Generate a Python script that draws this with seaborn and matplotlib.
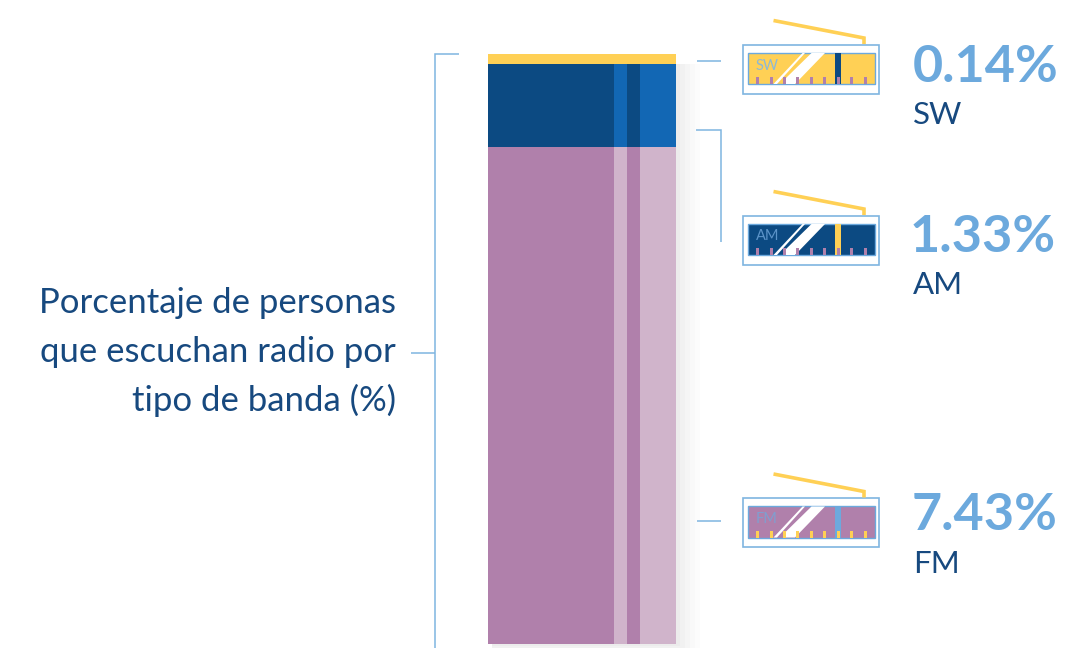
import pandas as pd
import seaborn as sns
import matplotlib.pyplot as plt
from matplotlib.patches import Rectangle, Polygon

# values printed next to the icons
bands = ['SW', 'AM', 'FM']
percent_labels = ['0.14%', '1.33%', '7.43%']
# share of the bar each band takes in the drawing
bar_share = [1.7, 14.1, 84.2]

title_lines = ['Porcentaje de personas', 'que escuchan radio por', 'tipo de banda (%)']

YELLOW = '#FFD055'
NAVY = '#0C4A82'
ROYAL = '#1267B4'
MAUVE = '#B080AB'
PALE_MAUVE = '#D0B4CB'
SKY = '#6CA9DD'
LINE = '#7FB5E0'
TEXT_BLUE = '#17497F'

sns.set_theme(style='white')
plt.rcParams['font.family'] = ['Lato', 'DejaVu Sans']

W, H = 1086, 648
fig = plt.figure(figsize=(W / 100, H / 100), dpi=100, facecolor='white')

# page layer in pixel coordinates, for brackets, icons and text
page = fig.add_axes([0, 0, 1, 1])
page.set_xlim(0, W)
page.set_ylim(H, 0)
page.axis('off')

# soft shadow behind the bar, mostly to the right and below
for grow, a in zip([24, 19, 14, 9, 4], [0.01, 0.012, 0.014, 0.016, 0.018]):
    page.add_patch(Rectangle((492, 64), 184 + grow, 580 + grow * 0.6,
                             color='black', alpha=a, lw=0))

# the stacked bar
bar_ax = fig.add_axes([488 / W, (H - 644) / H, 188 / W, 590 / H])
share = pd.DataFrame({'band': bands, 'share': bar_share})
share['top'] = share['share'][::-1].cumsum()[::-1]
seg_colors = {'SW': YELLOW, 'AM': NAVY, 'FM': MAUVE}
for band in bands:
    row = share[share.band == band]
    sns.barplot(data=row, x=['bar'], y='top', color=seg_colors[band], width=1,
                saturation=1, ax=bar_ax, linewidth=0)

# lighter vertical strips across AM and FM
fm_top = bar_share[2]
am_top = bar_share[2] + bar_share[1]
for left, right in [(126, 139), (152, 188)]:
    x0 = left / 188 - 0.5
    wid = (right - left) / 188
    bar_ax.bar(x0, fm_top, width=wid, align='edge', color=PALE_MAUVE, lw=0)
    bar_ax.bar(x0, am_top - fm_top, bottom=fm_top, width=wid, align='edge', color=ROYAL, lw=0)
bar_ax.set_xlim(-0.5, 0.5)
bar_ax.set_ylim(0, 100)
bar_ax.axis('off')


def bracket(xs, ys):
    page.plot(xs, ys, color=LINE, lw=1.1, solid_capstyle='butt', solid_joinstyle='miter')


bracket([459, 435, 435], [54, 54, 648])
bracket([435, 411], [353, 353])
bracket([697, 721], [61, 61])
bracket([696, 721, 721], [130, 130, 242])
bracket([697, 721], [521, 521])

for line, y in zip(title_lines, [303, 352, 400]):
    page.text(396, y, line, ha='right', va='center', fontsize=25, color=TEXT_BLUE)


def radio(dy, body, needle, tick, label, label_color):
    # antenna
    page.plot([773.5, 864, 864], [20.5 + dy, 38 + dy, 44 + dy], color=YELLOW, lw=2.6,
              solid_joinstyle='miter', solid_capstyle='butt')
    # outer frame and dial
    page.add_patch(Rectangle((743, 44.5 + dy), 136, 49, fc='white', ec=LINE, lw=1.2))
    page.add_patch(Rectangle((748, 52.5 + dy), 127, 31.5, fc=body, ec=SKY, lw=1))
    # white glare stripes
    page.add_patch(Polygon([(802.5, 53 + dy), (805, 53 + dy), (777, 84 + dy), (773.5, 84 + dy)],
                           fc='white', lw=0))
    page.add_patch(Polygon([(811.5, 53 + dy), (825, 53 + dy), (795, 84 + dy), (786, 84 + dy), (786, 78 + dy)],
                           fc='white', lw=0))
    # needle
    page.add_patch(Rectangle((835, 53 + dy), 6, 31, fc=needle, lw=0))
    for x in [757.3, 771.3, 784.3, 797.3, 811.3, 824.3, 838.3, 851.3, 865.3]:
        page.add_patch(Rectangle((x - 1.5, 77 + dy), 3, 7, fc=tick, lw=0))
    page.text(756, 65.5 + dy, label, ha='left', va='center', fontsize=10.5, color=label_color)


radio(0, YELLOW, NAVY, MAUVE, 'SW', '#8DB9D6')
radio(171, NAVY, YELLOW, MAUVE, 'AM', '#5B93C8')
radio(453.5, MAUVE, SKY, YELLOW, 'FM', '#7F9FD0')

for pct, band, x, y1, y2 in zip(percent_labels, bands, [913, 910, 912], [68, 237, 516], [115, 285, 564]):
    page.text(x, y1, pct, ha='left', va='center', fontsize=37.5, fontweight='bold', color=SKY)
    page.text(913, y2, band, ha='left', va='center', fontsize=22.5, color=TEXT_BLUE)

fig.savefig('out.png', dpi=100, facecolor='white')
